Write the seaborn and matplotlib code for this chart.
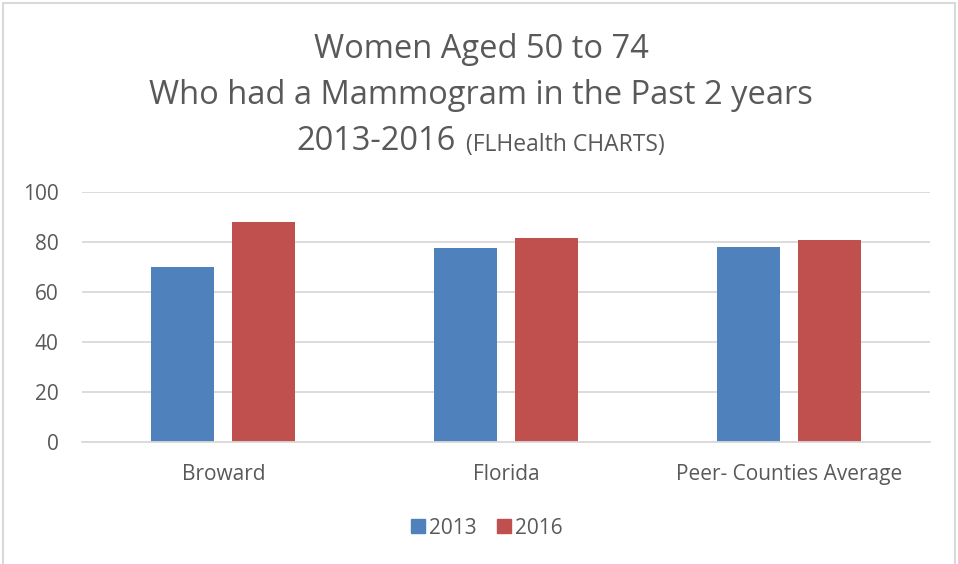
import matplotlib
matplotlib.use("Agg")
import matplotlib.pyplot as plt
import seaborn as sns
import pandas as pd
from matplotlib.patches import Rectangle

categories = ["Broward", "Florida", "Peer- Counties Average"]
years = ["2013", "2016"]
values_2013 = [69.8, 77.4, 78.0]
values_2016 = [88.0, 81.6, 80.7]
yticks = [0, 20, 40, 60, 80, 100]

df = pd.DataFrame({
    "category": categories * 2,
    "year": [years[0]] * 3 + [years[1]] * 3,
    "value": values_2013 + values_2016,
})

sns.set_theme(style="white")
plt.rcParams["font.family"] = ["Open Sans", "DejaVu Sans"]

TXT = "#595959"
GRID = "#d9d9d9"
palette = {"2013": "#4f81bd", "2016": "#c0504d"}

fig = plt.figure(figsize=(9.58, 5.64), dpi=100)
ax = fig.add_axes([82 / 958, 1 - 441.7 / 564, 848 / 958, 250 / 564])

sns.barplot(data=df, x="category", y="value", hue="year", order=categories,
            hue_order=years, palette=palette, width=0.573, gap=0.222,
            saturation=1, ax=ax, legend=False, edgecolor="none")

ax.set_ylim(0, 100)
ax.set_xlim(-0.5, 2.5)
ax.set_yticks(yticks)
ax.set_yticklabels([str(v) for v in yticks])
ax.yaxis.grid(True, color=GRID, linewidth=1.3)
ax.set_axisbelow(True)
for s in ["top", "right", "left"]:
    ax.spines[s].set_visible(False)
ax.spines["bottom"].set_color(GRID)
ax.spines["bottom"].set_linewidth(1.3)
ax.tick_params(axis="both", length=0, labelsize=15, labelcolor=TXT)
ax.tick_params(axis="y", pad=17)
ax.tick_params(axis="x", pad=16)
ax.set_xlabel("")
ax.set_ylabel("")

# Title
fig.text(481 / 958, 1 - 50 / 564, "Women Aged 50 to 74", ha="center", va="center",
         fontsize=23.5, color=TXT)
fig.text(481 / 958, 1 - 96 / 564, "Who had a Mammogram in the Past 2 years", ha="center",
         va="center", fontsize=23.5, color=TXT)
fig.text(456 / 958, 1 - 141 / 564, "2013-2016", ha="right", va="center",
         fontsize=23.5, color=TXT)
fig.text(466 / 958, 1 - 145 / 564, "(FLHealth CHARTS)", ha="left", va="center",
         fontsize=16.5, color=TXT)

# Legend
handles = [Rectangle((0, 0), 1, 1, color=palette[y]) for y in years]
fig.legend(handles, years, loc="center", bbox_to_anchor=(487 / 958, 1 - 528 / 564),
           ncol=2, frameon=False, fontsize=15, labelcolor=TXT, handlelength=0.65,
           handleheight=0.65, handletextpad=0.2, columnspacing=1.0)

# Chart border
border = Rectangle((3 / 958, -0.05), 952 / 958, 1 - 3 / 564 + 0.05, transform=fig.transFigure,
                   fill=False, edgecolor=GRID, linewidth=1.5)
fig.add_artist(border)

fig.savefig("out.png", dpi=100, facecolor="white")
